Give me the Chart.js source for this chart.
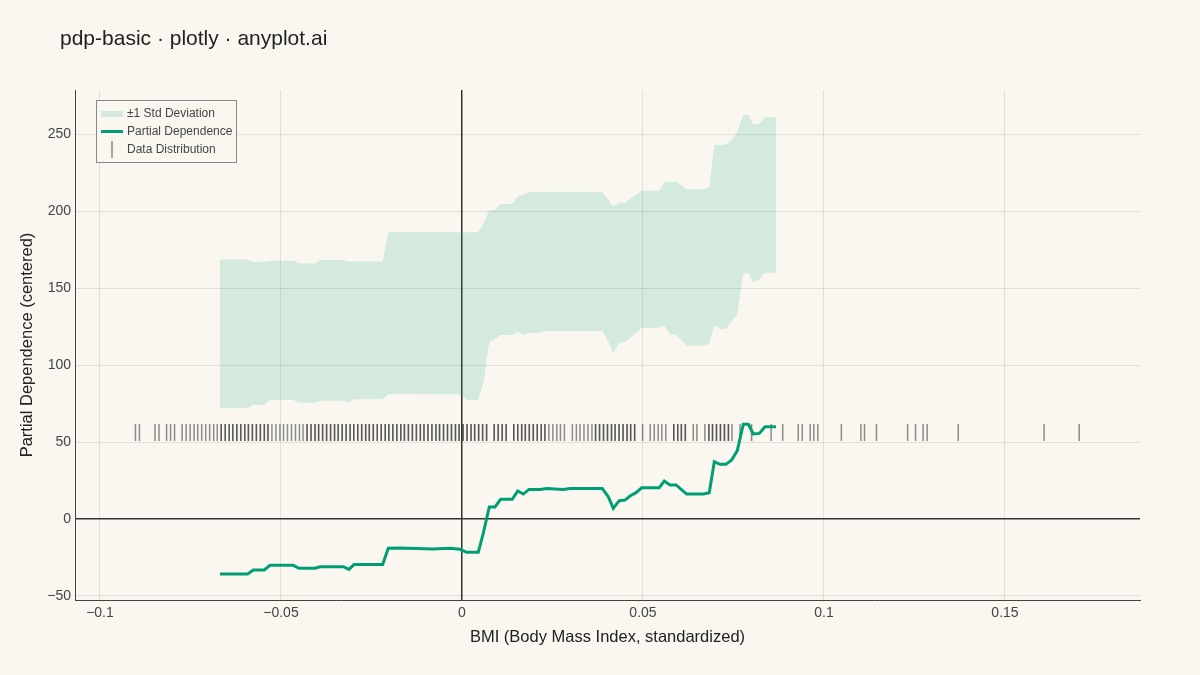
<!DOCTYPE html>
<html>
<head>
<meta charset="utf-8">
<title>pdp-basic</title>
<script src="https://cdn.jsdelivr.net/npm/chart.js@4.4.1/dist/chart.umd.min.js"></script>
<style>
  html, body { margin: 0; padding: 0; background: #FAF7F1; }
  #wrap { width: 1200px; height: 675px; }
</style>
</head>
<body>
<div id="wrap"><canvas id="pdp" width="1200" height="675"></canvas></div>
<script>
// Grid of BMI values where the partial dependence was evaluated (standardized units)
const gridX = [
  -0.06685, -0.05920, -0.05765, -0.05461, -0.05304, -0.04660, -0.04503, -0.04061,
  -0.03923, -0.03279, -0.03122, -0.02983, -0.02191, -0.02036, -0.01713, -0.00793,
  -0.00331, -0.00055, 0.00130, 0.00450, 0.00588, 0.00754, 0.00912, 0.01069,
  0.01390, 0.01539, 0.01693, 0.01851, 0.02155, 0.02340, 0.02798, 0.02983,
  0.03876, 0.04041, 0.04180, 0.04345, 0.04503, 0.04641, 0.04807, 0.04964,
  0.05450, 0.05588, 0.05746, 0.05912, 0.06207, 0.06666, 0.06831, 0.06970,
  0.07127, 0.07293, 0.07450, 0.07605, 0.07771, 0.07909, 0.08047, 0.08213,
  0.08370, 0.08674
];

// Centered partial dependence
const pdValues = [
  -35.7, -35.7, -33.1, -33.1, -30.1, -30.1, -32.0, -32.0,
  -31.0, -31.0, -32.7, -29.6, -29.6, -19.0, -18.9, -19.5,
  -19.0, -19.7, -21.6, -21.6, -9.3, 7.8, 7.8, 12.8,
  12.8, 18.2, 16.2, 19.2, 19.2, 19.8, 19.2, 19.8,
  19.8, 14.5, 6.9, 11.9, 12.3, 14.9, 17.1, 20.3,
  20.3, 24.7, 22.1, 22.1, 16.2, 16.2, 17.1, 37.2,
  35.5, 35.5, 38.3, 44.4, 61.5, 61.5, 55.2, 55.6,
  59.9, 59.9
];

// ±1 std band edges
const bandUpper = [
  168.6, 168.6, 167.1, 167.1, 167.7, 167.7, 166.0, 166.0,
  168.2, 168.2, 167.3, 167.3, 167.3, 186.6, 186.6, 186.4,
  186.6, 186.0, 186.2, 186.2, 191.8, 200.4, 200.6, 204.5,
  204.5, 209.5, 210.4, 212.3, 212.5, 212.5, 212.5, 212.5,
  212.5, 207.5, 202.8, 205.3, 205.6, 208.0, 210.5, 213.2,
  213.2, 218.5, 219.0, 219.0, 214.1, 214.1, 215.4, 242.9,
  242.9, 243.2, 246.0, 251.5, 262.3, 262.3, 256.5, 256.5,
  260.9, 260.9
];
const bandLower = [
  71.9, 71.9, 74.0, 74.0, 77.3, 77.3, 75.5, 75.5,
  76.8, 76.8, 75.5, 77.7, 77.7, 81.0, 81.1, 81.0,
  81.0, 81.0, 77.3, 77.3, 88.0, 115.0, 116.9, 119.5,
  119.5, 121.6, 119.5, 120.8, 121.0, 122.1, 122.1, 122.1,
  122.1, 115.1, 107.6, 114.5, 115.0, 117.5, 121.0, 124.0,
  124.2, 125.3, 119.9, 119.9, 112.5, 112.5, 114.0, 126.0,
  123.4, 123.4, 128.1, 133.1, 159.5, 159.5, 154.1, 155.2,
  160.0, 160.0
];

// Observed BMI values (rug)
const rugX = [
  -0.0902, -0.0891, -0.0848, -0.0837, -0.0816, -0.0805, -0.0794,
  -0.0773, -0.0762, -0.0751, -0.0740, -0.0730, -0.0719, -0.0708, -0.0697, -0.0686,
  -0.0676, -0.0665, -0.0654, -0.0643, -0.0633, -0.0622, -0.0611, -0.0600, -0.0590,
  -0.0579, -0.0568, -0.0557, -0.0546, -0.0536, -0.0525, -0.0514, -0.0503, -0.0493,
  -0.0482, -0.0471, -0.0460, -0.0449, -0.0439, -0.0428, -0.0417, -0.0406, -0.0396,
  -0.0385, -0.0374, -0.0363, -0.0352, -0.0342, -0.0331, -0.0320, -0.0309, -0.0299,
  -0.0288, -0.0277, -0.0266, -0.0256, -0.0245, -0.0234, -0.0223, -0.0212, -0.0202,
  -0.0191, -0.0180, -0.0169, -0.0159, -0.0148, -0.0137, -0.0126, -0.0115, -0.0105,
  -0.0094, -0.0083, -0.0072, -0.0062, -0.0051, -0.0040, -0.0029, -0.0018, -0.0008,
  0.0003, 0.0014, 0.0025, 0.0035, 0.0046, 0.0057, 0.0068,
  0.0089, 0.0100, 0.0111, 0.0122,
  0.0143, 0.0154, 0.0165, 0.0175, 0.0186, 0.0197, 0.0208, 0.0219, 0.0229, 0.0240,
  0.0251, 0.0262, 0.0272, 0.0283,
  0.0305, 0.0316, 0.0326, 0.0337, 0.0348, 0.0359, 0.0369, 0.0380, 0.0391, 0.0402,
  0.0413, 0.0423, 0.0434, 0.0445, 0.0456, 0.0466, 0.0477,
  0.0499,
  0.0520, 0.0531, 0.0542, 0.0552, 0.0563,
  0.0585, 0.0596, 0.0606, 0.0617,
  0.0639, 0.0649,
  0.0671, 0.0682, 0.0692, 0.0703, 0.0714, 0.0725, 0.0736, 0.0746,
  0.0768, 0.0800, 0.0854, 0.0886, 0.0929, 0.0940, 0.0962, 0.0972, 0.0983,
  0.1048, 0.1102, 0.1112, 0.1145, 0.1231, 0.1253, 0.1274, 0.1285, 0.1371,
  0.1608, 0.1705
];
// Stretches of the rug where values repeat (ticks look darker)
const rugDenseRanges = [
  [-0.0670, -0.0530], [-0.0430, 0.0070], [0.0085, 0.0125], [0.0140, 0.0235],
  [0.0365, 0.0480], [0.0580, 0.0620], [0.0680, 0.0740]
];

const xTicks = [-0.1, -0.05, 0, 0.05, 0.1, 0.15];
const yTicks = [-50, 0, 50, 100, 150, 200, 250];

const BG = '#FAF7F1';
const GREEN = '#009E73';
const BAND = 'rgba(0,158,115,0.15)';
const RUG = 'rgba(40,40,40,0.52)';
const FONT = '"Liberation Sans", Arial, sans-serif';
const RUG_Y = 56.2;

function fmt(v) {
  const s = String(Math.round(v * 1000) / 1000);
  return s.replace('-', '\u2212');
}

const pts = (ys) => gridX.map((x, i) => ({ x: x, y: ys[i] }));
const rugPts = rugX.map((x) => ({ x: x, y: RUG_Y }));
const densePts = rugX
  .filter((x) => rugDenseRanges.some((r) => x >= r[0] && x <= r[1]))
  .map((x) => ({ x: x, y: RUG_Y }));

// Background, title and legend box
const decor = {
  id: 'decor',
  beforeDraw(chart) {
    const { ctx } = chart;
    ctx.save();
    ctx.fillStyle = BG;
    ctx.fillRect(0, 0, chart.width, chart.height);
    ctx.restore();
  },
  afterDraw(chart) {
    const { ctx } = chart;
    ctx.save();
    ctx.fillStyle = '#222';
    ctx.font = '21px ' + FONT;
    ctx.textBaseline = 'middle';
    ctx.fillText('pdp-basic \u00b7 plotly \u00b7 anyplot.ai', 60, 39);

    // legend
    ctx.fillStyle = BG;
    ctx.fillRect(96.5, 100.5, 140, 62);
    ctx.strokeStyle = '#888';
    ctx.lineWidth = 1;
    ctx.strokeRect(96.5, 100.5, 140, 62);

    ctx.fillStyle = BAND;
    ctx.fillRect(101, 111, 22, 6);
    ctx.strokeStyle = GREEN;
    ctx.lineWidth = 3;
    ctx.beginPath();
    ctx.moveTo(101, 131.5);
    ctx.lineTo(123, 131.5);
    ctx.stroke();
    ctx.strokeStyle = 'rgba(60,60,60,0.6)';
    ctx.lineWidth = 1.5;
    ctx.beginPath();
    ctx.moveTo(112, 141);
    ctx.lineTo(112, 158);
    ctx.stroke();

    ctx.fillStyle = '#444';
    ctx.font = '12px ' + FONT;
    ctx.fillText('\u00b11 Std Deviation', 127, 114);
    ctx.fillText('Partial Dependence', 127, 132);
    ctx.fillText('Data Distribution', 127, 150);
    ctx.restore();
  }
};

const gridColor = (c) => (c.tick && c.tick.value === 0 ? '#333' : 'rgba(0,0,0,0.09)');
const gridWidth = (c) => (c.tick && c.tick.value === 0 ? 1.5 : 1);

new Chart(document.getElementById('pdp'), {
  type: 'scatter',
  data: {
    datasets: [
      {
        label: '±1 Std Deviation',
        data: pts(bandUpper),
        showLine: true,
        borderWidth: 0,
        pointRadius: 0,
        backgroundColor: BAND,
        fill: '+1',
        order: 3
      },
      {
        label: 'lower',
        data: pts(bandLower),
        showLine: true,
        borderWidth: 0,
        pointRadius: 0,
        fill: false,
        order: 4
      },
      {
        label: 'Data Distribution',
        data: rugPts,
        showLine: false,
        pointStyle: 'line',
        rotation: 90,
        pointRadius: 8.5,
        borderWidth: 1.5,
        borderColor: RUG,
        order: 2
      },
      {
        label: 'dense',
        data: densePts,
        showLine: false,
        pointStyle: 'line',
        rotation: 90,
        pointRadius: 8.5,
        borderWidth: 1.5,
        borderColor: RUG,
        order: 1
      },
      {
        label: 'Partial Dependence',
        data: pts(pdValues),
        showLine: true,
        borderColor: GREEN,
        borderWidth: 3,
        pointRadius: 0,
        fill: false,
        tension: 0,
        order: 0
      }
    ]
  },
  options: {
    responsive: false,
    animation: false,
    events: [],
    devicePixelRatio: 1,
    layout: { padding: { top: 90, right: 60, left: 0, bottom: 28 } },
    plugins: {
      legend: { display: false },
      title: { display: false },
      tooltip: { enabled: false }
    },
    scales: {
      x: {
        type: 'linear',
        min: -0.1069,
        max: 0.1873,
        afterFit: (s) => { s.height = 47; },
        afterBuildTicks: (s) => { s.ticks = xTicks.map((v) => ({ value: v })); },
        border: { display: true, color: '#444', width: 1 },
        grid: { color: gridColor, lineWidth: gridWidth, drawTicks: false },
        ticks: {
          padding: 5,
          color: '#444',
          font: { family: FONT, size: 14 },
          callback: (v) => fmt(v)
        },
        title: {
          display: true,
          text: 'BMI (Body Mass Index, standardized)',
          color: '#222',
          font: { family: FONT, size: 16.5 },
          padding: { top: 6, bottom: 0 }
        }
      },
      y: {
        type: 'linear',
        min: -52.6,
        max: 278.6,
        afterFit: (s) => { s.width = 75; },
        afterBuildTicks: (s) => { s.ticks = yTicks.map((v) => ({ value: v })); },
        border: { display: true, color: '#444', width: 1 },
        grid: { color: gridColor, lineWidth: gridWidth, drawTicks: false },
        ticks: {
          padding: 4,
          color: '#444',
          font: { family: FONT, size: 14 },
          callback: (v) => fmt(v)
        },
        title: {
          display: true,
          text: 'Partial Dependence (centered)',
          color: '#222',
          font: { family: FONT, size: 16.5 },
          padding: { top: 18, bottom: 0 }
        }
      }
    }
  },
  plugins: [decor]
});
</script>
</body>
</html>
